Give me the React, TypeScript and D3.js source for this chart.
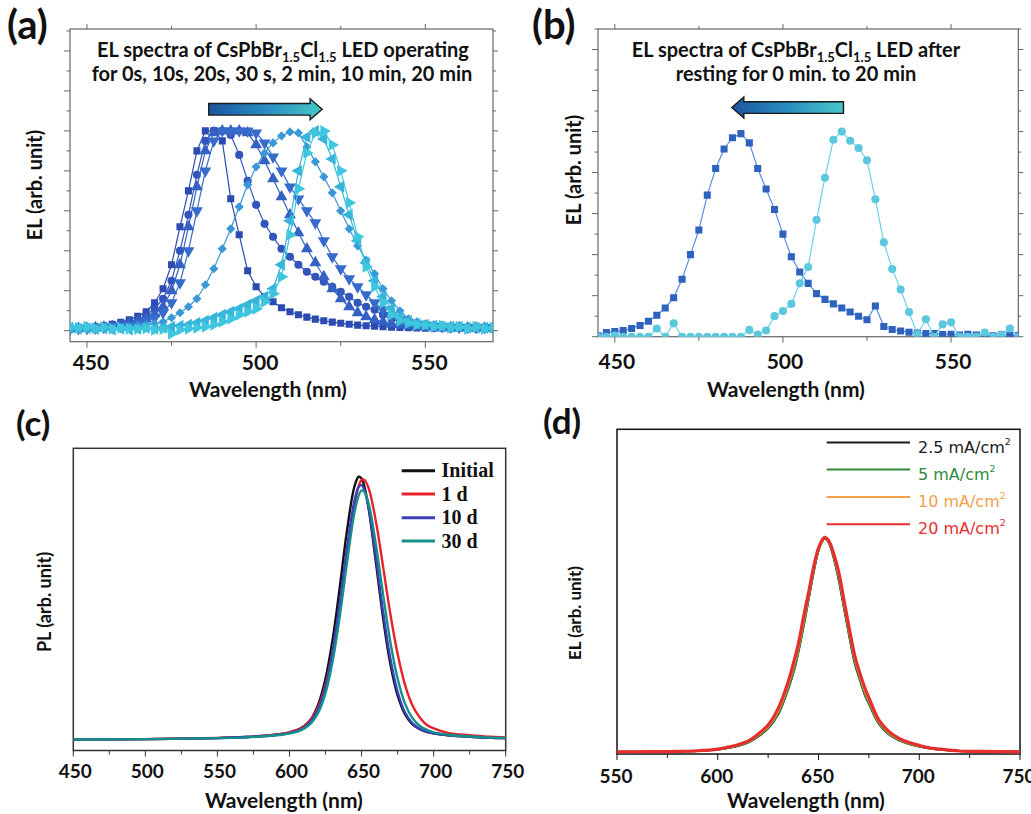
import React from 'react';
import * as d3 from 'd3';

// ---------- DATA ----------
// (a) and (b): wavelength grid (nm)
const WL_AB = [445,447.5,450,452.5,455,457.5,460,462.5,465,467.5,470,472.5,475,477.5,480,482.5,485,487.5,490,492.5,495,497.5,500,502.5,505,507.5,510,512.5,515,517.5,520,522.5,525,527.5,530,532.5,535,537.5,540,542.5,545,547.5,550,552.5,555,557.5,560,562.5,565,567.5,570];

// (a) EL spectra while operating
const A_LABELS = ['0 s', '10 s', '20 s', '30 s', '2 min', '10 min', '20 min'];
const A_0S = [0.012,0.014,0.016,0.02,0.025,0.032,0.042,0.055,0.072,0.095,0.14,0.21,0.33,0.52,0.70,0.90,1.0,1.0,0.95,0.66,0.48,0.30,0.22,0.17,0.145,0.115,0.095,0.08,0.068,0.058,0.05,0.043,0.037,0.032,0.028,0.025,0.022,0.02,0.018,0.016,0.015,0.014,0.013,0.012,0.012,0.011,0.011,0.01,0.01,0.01,0.01];
const A_10S = [0.01,0.012,0.014,0.017,0.02,0.026,0.033,0.043,0.057,0.077,0.11,0.16,0.25,0.40,0.58,0.78,0.95,1.0,1.0,0.98,0.88,0.75,0.63,0.535,0.47,0.41,0.37,0.33,0.295,0.27,0.245,0.22,0.195,0.17,0.14,0.12,0.105,0.08,0.058,0.045,0.037,0.03,0.025,0.022,0.02,0.018,0.017,0.016,0.015,0.015,0.015];
const A_20S = [0.01,0.012,0.013,0.015,0.018,0.022,0.027,0.034,0.045,0.06,0.085,0.12,0.2,0.33,0.52,0.72,0.9,0.99,1.0,1.0,1.0,0.99,0.93,0.85,0.76,0.67,0.58,0.49,0.41,0.34,0.27,0.21,0.16,0.12,0.09,0.07,0.055,0.045,0.035,0.03,0.025,0.02,0.02,0.018,0.016,0.015,0.015,0.014,0.014,0.013,0.013];
const A_30S = [0.008,0.01,0.011,0.013,0.015,0.018,0.022,0.028,0.036,0.048,0.065,0.09,0.14,0.24,0.40,0.60,0.80,0.95,1.0,1.0,1.0,1.0,0.99,0.94,0.87,0.80,0.72,0.66,0.60,0.54,0.45,0.37,0.31,0.26,0.22,0.18,0.14,0.105,0.075,0.055,0.04,0.032,0.027,0.023,0.02,0.018,0.017,0.016,0.015,0.015,0.015];
const A_2MIN = [0.005,0.006,0.007,0.008,0.01,0.012,0.015,0.02,0.025,0.03,0.035,0.045,0.065,0.09,0.12,0.16,0.23,0.31,0.41,0.51,0.62,0.73,0.82,0.89,0.94,0.975,0.995,0.99,0.92,0.845,0.77,0.69,0.60,0.51,0.425,0.353,0.285,0.21,0.15,0.10,0.06,0.045,0.035,0.03,0.028,0.025,0.02,0.02,0.02,0.02,0.02];
const A_10MIN = [0.015,0.01,0.012,0.008,0.012,0.006,0.01,0.006,0.01,0.015,0.01,0.015,0.02,0.025,0.03,0.04,0.05,0.065,0.08,0.095,0.11,0.13,0.15,0.17,0.21,0.33,0.55,0.80,0.97,1.0,0.96,0.86,0.72,0.58,0.45,0.34,0.25,0.17,0.11,0.07,0.05,0.035,0.03,0.025,0.02,0.02,0.02,0.015,0.015,0.015,0.015];
const A_20MIN = [0.02,0.015,0.02,0.012,0.018,0.01,0.015,0.01,0.008,0.012,0.005,0.008,-0.015,0.005,0.01,0.015,0.02,0.03,0.045,0.06,0.08,0.095,0.11,0.145,0.185,0.27,0.48,0.71,0.89,0.99,1.0,0.93,0.80,0.64,0.47,0.32,0.22,0.14,0.08,0.05,0.038,0.03,0.028,0.02,0.025,0.015,0.02,0.01,0.02,0.01,0.015];

// (b) EL spectra after resting
const B_LABELS = ['0 min', '20 min'];
const B_REST_0 = [0.005,0.02,0.025,0.03,0.04,0.055,0.075,0.105,0.14,0.19,0.28,0.40,0.52,0.69,0.82,0.915,0.97,0.99,0.945,0.82,0.72,0.62,0.50,0.39,0.315,0.26,0.21,0.182,0.16,0.14,0.12,0.1,0.083,0.15,0.05,0.035,0.028,0.022,0.018,0.015,0.015,0.01,0.012,0.008,0.012,0.008,0.01,0.005,0.01,0.008,0.006];
const B_REST_20 = [0.0,0.0,0.005,0.0,0.0,0.0,0.0,0.04,0.0,0.065,0.0,0.0,0.0,0.0,0.0,0.0,0.0,0.0,0.033,0.01,0.03,0.10,0.125,0.16,0.26,0.34,0.57,0.775,0.96,1.0,0.955,0.92,0.86,0.67,0.46,0.33,0.23,0.12,0.01,0.085,0.0,0.06,0.07,0.0,0.0,0.0,0.02,0.0,0.01,0.04,0.0];

// (c) PL spectra
const WL_C = [450,500,550,570,580,590,595,600,605,610,615,620,625,630,635,640,645,648,650,652,655,660,665,670,675,680,685,690,695,700,710,720,730,740,750];
const C_LABELS = ['Initial', '1 d', '10 d', '30 d'];
const C_INITIAL = [0.002,0.003,0.007,0.011,0.015,0.020,0.023,0.029,0.037,0.052,0.080,0.136,0.233,0.384,0.585,0.799,0.961,0.999,0.992,0.961,0.875,0.671,0.460,0.287,0.169,0.099,0.061,0.042,0.031,0.025,0.018,0.014,0.011,0.008,0.007];
const C_1D = [0.002,0.003,0.008,0.011,0.015,0.02,0.024,0.029,0.037,0.051,0.078,0.126,0.209,0.340,0.514,0.715,0.894,0.964,0.987,0.987,0.954,0.828,0.655,0.477,0.327,0.212,0.135,0.088,0.058,0.044,0.027,0.02,0.016,0.012,0.01];
const C_10D = [0.002,0.003,0.007,0.011,0.014,0.018,0.022,0.026,0.034,0.046,0.072,0.118,0.203,0.339,0.524,0.734,0.907,0.960,0.967,0.948,0.879,0.691,0.484,0.308,0.183,0.106,0.065,0.043,0.032,0.025,0.018,0.014,0.010,0.008,0.007];
const C_30D = [0.002,0.003,0.007,0.010,0.013,0.018,0.020,0.025,0.031,0.043,0.064,0.104,0.179,0.301,0.474,0.677,0.861,0.928,0.947,0.941,0.895,0.740,0.550,0.371,0.233,0.140,0.086,0.055,0.039,0.029,0.020,0.015,0.012,0.009,0.008];

// (d) EL spectra at different current densities
const WL_D = [550,570,580,590,600,605,610,615,620,625,630,635,638,640,643,645,648,650,652,653,655,658,660,663,665,668,670,673,675,680,685,690,695,700,705,710,720,730,740,750];
const D_LABELS = ['2.5 mA/cm', '5 mA/cm', '10 mA/cm', '20 mA/cm'];
const D_2_5 = [0.003,0.004,0.005,0.007,0.014,0.021,0.031,0.046,0.074,0.113,0.178,0.297,0.387,0.468,0.608,0.708,0.858,0.94,0.985,0.995,0.978,0.888,0.805,0.655,0.555,0.415,0.355,0.268,0.228,0.133,0.084,0.057,0.04,0.028,0.019,0.014,0.007,0.005,0.004,0.003];
const D_5 = [0.003,0.004,0.005,0.007,0.014,0.022,0.032,0.047,0.075,0.115,0.18,0.30,0.39,0.47,0.61,0.71,0.86,0.94,0.985,0.995,0.98,0.89,0.81,0.66,0.56,0.42,0.36,0.27,0.23,0.135,0.085,0.058,0.04,0.029,0.02,0.014,0.007,0.005,0.004,0.003];
const D_10 = [0.003,0.004,0.005,0.0075,0.015,0.0235,0.034,0.05,0.08,0.121,0.192,0.315,0.41,0.487,0.63,0.725,0.87,0.945,0.988,0.998,0.983,0.9,0.825,0.675,0.575,0.435,0.372,0.285,0.242,0.142,0.091,0.062,0.043,0.031,0.021,0.015,0.007,0.005,0.004,0.003];
const D_20 = [0.003,0.004,0.005,0.008,0.016,0.025,0.036,0.053,0.085,0.128,0.205,0.33,0.43,0.505,0.65,0.74,0.88,0.95,0.99,1.0,0.985,0.91,0.84,0.69,0.59,0.45,0.385,0.30,0.255,0.15,0.097,0.066,0.046,0.033,0.022,0.016,0.007,0.005,0.004,0.003];

// ticks
const AB_X_MAJOR = [450, 500, 550];
const AB_X_MINOR = [475, 525];
const AB_Y_MAJOR = [0, 0.2, 0.4, 0.6, 0.8, 1.0, 1.2, 1.4];
const AB_Y_MINOR = [0.1, 0.3, 0.5, 0.7, 0.9, 1.1, 1.3, 1.5];
const C_X_MAJOR = [450, 500, 550, 600, 650, 700, 750];
const C_X_MINOR = [475, 525, 575, 625, 675, 725];
const D_X_MAJOR = [550, 600, 650, 700, 750];
const D_X_MINOR = [575, 625, 675, 725];

// ---------- STYLE ----------
const SANS = "Lato, 'Open Sans', sans-serif";
const SERIF = "'Liberation Serif', 'DejaVu Serif', serif";
const A_COLORS = ['#2c4bb0', '#3255bb', '#3560c4', '#376bcb', '#3a98d6', '#36b4da', '#3fc6df'];
const A_MARKERS = ['square', 'circle', 'triUp', 'triDown', 'diamond', 'triLeft', 'triRight'];
const B_COLORS = ['#2f62be', '#5bc8dd'];
const B_LINE_COLORS = ['#5a8fdc', '#6fd2e4'];
const B_MARKERS = ['square', 'circle'];
const C_COLORS = ['#111111', '#e8212b', '#3b3fbd', '#14908a'];
const D_COLORS = ['#1a1a1a', '#2f8a3c', '#f5a04a', '#e62e2e'];
const D_TEXT_COLORS = ['#1a1a1a', '#2f8a3c', '#f5a04a', '#e62e2e'];

// ---------- SCALES ----------
const axA = d3.scaleLinear().domain([445, 570]).range([70, 493]);
const ayA = d3.scaleLinear().domain([-0.055, 1.51]).range([341.7, 29]);
const axB = d3.scaleLinear().domain([445, 570]).range([598, 1018.3]);
const ayB = d3.scaleLinear().domain([0, 1.5]).range([336.7, 29]);
const axC = d3.scaleLinear().domain([450, 750]).range([73.3, 505.7]);
const ayC = d3.scaleLinear().domain([-0.04, 1.107]).range([750.5, 448.3]);
const axD = d3.scaleLinear().domain([550, 750]).range([617, 1020]);
const ayD = d3.scaleLinear().domain([-0.007, 1.502]).range([754, 429.3]);

type Scale = d3.ScaleLinear<number, number>;

function markerPath(kind: string): { d: string; rot: number } {
  const map: Record<string, [d3.SymbolType, number, number]> = {
    square: [d3.symbolSquare, 50, 0],
    circle: [d3.symbolCircle, 52, 0],
    triUp: [d3.symbolTriangle, 62, 0],
    triDown: [d3.symbolTriangle, 62, 180],
    diamond: [d3.symbolSquare, 42, 45],
    triLeft: [d3.symbolTriangle, 62, -90],
    triRight: [d3.symbolTriangle, 62, 90],
  };
  const [t, s, r] = map[kind];
  return { d: d3.symbol().type(t).size(s)() as string, rot: r };
}

function Frame({ xs, ys, xMaj, xMin, yMaj, yMin, stroke, sw, all }: any) {
  const [x0, x1] = xs.range();
  const [y0, y1] = ys.range(); // y0 bottom, y1 top
  const out: any[] = [];
  const tick = (key: string, a: number, b: number, c: number, d: number) =>
    out.push(<line key={key} x1={a} y1={b} x2={c} y2={d} stroke={stroke} strokeWidth={1} />);
  xMaj.forEach((v: number, i: number) => {
    tick('xb' + i, xs(v), y0, xs(v), y0 + 6);
    if (all) tick('xt' + i, xs(v), y1, xs(v), y1 - 5);
  });
  xMin.forEach((v: number, i: number) => {
    tick('xbm' + i, xs(v), y0, xs(v), y0 + 4);
    if (all) tick('xtm' + i, xs(v), y1, xs(v), y1 - 3);
  });
  if (all) {
    yMaj.forEach((v: number, i: number) => {
      tick('yl' + i, x0, ys(v), x0 - 6, ys(v));
      tick('yr' + i, x1, ys(v), x1 + 5, ys(v));
    });
    yMin.forEach((v: number, i: number) => {
      tick('ylm' + i, x0, ys(v), x0 - 3.5, ys(v));
      tick('yrm' + i, x1, ys(v), x1 + 3, ys(v));
    });
  }
  return (
    <g>
      <rect x={x0} y={y1} width={x1 - x0} height={y0 - y1} fill="none" stroke={stroke} strokeWidth={sw} />
      {out}
    </g>
  );
}

function TickLabels({ xs, vals, y, size, dx = 0 }: any) {
  return (
    <g>
      {vals.map((v: number) => (
        <text key={v} x={xs(v) + dx} y={y} textAnchor="middle" fontSize={size} fontWeight="bold" fontFamily={SANS} fill="#111">
          {v}
        </text>
      ))}
    </g>
  );
}

function MarkerSeries({ xs, ys, wl, vals, color, lineColor, kind, clip }: any) {
  const line = d3.line<number>().x((_, i) => xs(wl[i])).y((v) => ys(v));
  const m = markerPath(kind);
  return (
    <g clipPath={`url(#${clip})`}>
      <path d={line(vals) as string} fill="none" stroke={lineColor} strokeWidth={1.2} />
      {vals.map((v: number, i: number) => (
        <path key={i} d={m.d} transform={`translate(${xs(wl[i])},${ys(v)}) rotate(${m.rot})`} fill={color} />
      ))}
    </g>
  );
}

function SmoothSeries({ xs, ys, wl, vals, color, width, clip }: any) {
  const line = d3.line<number>().x((_, i) => xs(wl[i])).y((v) => ys(v)).curve(d3.curveCatmullRom.alpha(0.5));
  return <path d={line(vals) as string} fill="none" stroke={color} strokeWidth={width} clipPath={`url(#${clip})`} strokeLinejoin="round" />;
}

function Arrow({ xTail, xTip, yc, gradId, dir }: any) {
  // dir: 1 pointing right, -1 pointing left
  const bh = 5.8, hh = 10.5, hl = 12 * dir;
  const xb = xTip - hl;
  const pts = [
    [xTail, yc - bh], [xb, yc - bh], [xb, yc - hh], [xTip, yc], [xb, yc + hh], [xb, yc + bh], [xTail, yc + bh],
  ];
  return <polygon points={pts.map((p) => p.join(',')).join(' ')} fill={`url(#${gradId})`} stroke="#1a1a1a" strokeWidth={1.4} />;
}

function Title({ x, y, pre, post, size }: any) {
  return (
    <text x={x} y={y} textAnchor="middle" fontSize={size} fontWeight="bold" fontFamily={SANS} fill="#111">
      {pre}
      <tspan fontSize={size * 0.65} dy={5}>1.5</tspan>
      <tspan dy={-5}>Cl</tspan>
      <tspan fontSize={size * 0.65} dy={5}>1.5</tspan>
      <tspan dy={-5}>{post}</tspan>
    </text>
  );
}

function rect(id: string, xs: Scale, ys: Scale) {
  const [x0, x1] = xs.range();
  const [y0, y1] = ys.range();
  return (
    <clipPath id={id} key={id}>
      <rect x={x0} y={y1} width={x1 - x0} height={y0 - y1} />
    </clipPath>
  );
}

export default function App() {
  const aSeries = [A_0S, A_10S, A_20S, A_30S, A_2MIN, A_10MIN, A_20MIN];
  const bSeries = [B_REST_0, B_REST_20];
  const cSeries = [C_INITIAL, C_1D, C_10D, C_30D];
  const dSeries = [D_2_5, D_5, D_10, D_20];
  const cLegendY = [470.7, 494, 517.7, 541];
  const dLegendY = [442.5, 469.5, 497, 524.3];
  return (
    <svg width={1031} height={814} style={{ position: 'absolute', left: 0, top: 0, background: '#fff' }}>
      <defs>
        {rect('clipA', axA, ayA)}
        {rect('clipB', axB, ayB)}
        {rect('clipC', axC, ayC)}
        {rect('clipD', axD, ayD)}
        <linearGradient id="gradA" x1="0" x2="1" y1="0" y2="0">
          <stop offset="0" stopColor="#1b55a0" />
          <stop offset="0.5" stopColor="#2a8cc0" />
          <stop offset="1" stopColor="#45c8c8" />
        </linearGradient>
        <linearGradient id="gradB" x1="0" x2="1" y1="0" y2="0">
          <stop offset="0" stopColor="#1b55a0" />
          <stop offset="0.5" stopColor="#2a8cc0" />
          <stop offset="1" stopColor="#45c8c8" />
        </linearGradient>
      </defs>

      {/* ---------- (a) ---------- */}
      <text x={7} y={39} fontSize={40} fontWeight="bold" fontFamily={SANS} fill="#111">(a)</text>
      <Frame xs={axA} ys={ayA} xMaj={AB_X_MAJOR} xMin={AB_X_MINOR} yMaj={AB_Y_MAJOR} yMin={AB_Y_MINOR} stroke="#666" sw={1.2} all />
      {aSeries.map((s, i) => (
        <MarkerSeries key={A_LABELS[i]} xs={axA} ys={ayA} wl={WL_AB} vals={s} color={A_COLORS[i]} lineColor={A_COLORS[i]} kind={A_MARKERS[i]} clip="clipA" />
      ))}
      <Title x={283} y={57} size={20} pre="EL spectra of CsPbBr" post=" LED operating" />
      <text x={282} y={81} textAnchor="middle" fontSize={20} fontWeight="bold" fontFamily={SANS} fill="#111">for 0s, 10s, 20s, 30 s, 2 min, 10 min, 20 min</text>
      <Arrow xTail={axA(486)} xTip={axA(519.5)} yc={ayA(1.108)} gradId="gradA" dir={1} />
      <TickLabels xs={axA} vals={AB_X_MAJOR} y={370} size={21} dx={4} />
      <text x={268} y={397} textAnchor="middle" fontSize={21} fontWeight="bold" fontFamily={SANS} fill="#111">Wavelength (nm)</text>
      <text transform="translate(42,185) rotate(-90)" textAnchor="middle" fontSize={20} fontWeight="bold" fontFamily={SANS} fill="#111">EL (arb. unit)</text>

      {/* ---------- (b) ---------- */}
      <text x={532} y={39} fontSize={40} fontWeight="bold" fontFamily={SANS} fill="#111">(b)</text>
      <Frame xs={axB} ys={ayB} xMaj={AB_X_MAJOR} xMin={AB_X_MINOR} yMaj={AB_Y_MAJOR} yMin={AB_Y_MINOR} stroke="#666" sw={1.2} all />
      {bSeries.map((s, i) => (
        <MarkerSeries key={B_LABELS[i]} xs={axB} ys={ayB} wl={WL_AB} vals={s} color={B_COLORS[i]} lineColor={B_LINE_COLORS[i]} kind={B_MARKERS[i]} clip="clipB" />
      ))}
      <Title x={796} y={57} size={20} pre="EL spectra of CsPbBr" post=" LED after" />
      <text x={796} y={81} textAnchor="middle" fontSize={20} fontWeight="bold" fontFamily={SANS} fill="#111">resting for 0 min. to 20 min</text>
      <Arrow xTail={axB(518)} xTip={axB(484.8)} yc={ayB(1.117)} gradId="gradB" dir={-1} />
      <TickLabels xs={axB} vals={AB_X_MAJOR} y={369} size={21} dx={2} />
      <text x={786} y={397} textAnchor="middle" fontSize={21} fontWeight="bold" fontFamily={SANS} fill="#111">Wavelength (nm)</text>
      <text transform="translate(581,170) rotate(-90)" textAnchor="middle" fontSize={20} fontWeight="bold" fontFamily={SANS} fill="#111">EL (arb. unit)</text>

      {/* ---------- (c) ---------- */}
      <text x={16} y={436} fontSize={35} fontWeight="bold" fontFamily={SANS} fill="#111">(c)</text>
      <Frame xs={axC} ys={ayC} xMaj={C_X_MAJOR} xMin={C_X_MINOR} yMaj={[]} yMin={[]} stroke="#333" sw={1.5} all={false} />
      {cSeries.map((s, i) => (
        <SmoothSeries key={C_LABELS[i]} xs={axC} ys={ayC} wl={WL_C} vals={s} color={C_COLORS[i]} width={2.4} clip="clipC" />
      ))}
      {C_LABELS.map((l, i) => (
        <g key={l}>
          <line x1={401.7} x2={435} y1={cLegendY[i]} y2={cLegendY[i]} stroke={C_COLORS[i]} strokeWidth={3} />
          <text x={441.5} y={cLegendY[i] + 6.5} fontSize={20} fontWeight="bold" fontFamily={SERIF} fill="#111">{l}</text>
        </g>
      ))}
      <TickLabels xs={axC} vals={C_X_MAJOR} y={778} size={19} dx={2} />
      <text x={284} y={808} textAnchor="middle" fontSize={21} fontWeight="bold" fontFamily={SANS} fill="#111">Wavelength (nm)</text>
      <text transform="translate(51,602) rotate(-90)" textAnchor="middle" fontSize={18} fontWeight="bold" fontFamily={SANS} fill="#111">PL (arb. unit)</text>

      {/* ---------- (d) ---------- */}
      <text x={543} y={434} fontSize={35} fontWeight="bold" fontFamily={SANS} fill="#111">(d)</text>
      <Frame xs={axD} ys={ayD} xMaj={D_X_MAJOR} xMin={D_X_MINOR} yMaj={[]} yMin={[]} stroke="#111" sw={1.5} all={false} />
      {dSeries.map((s, i) => (
        <SmoothSeries key={D_LABELS[i]} xs={axD} ys={ayD} wl={WL_D} vals={s} color={D_COLORS[i]} width={i === 3 ? 3.2 : 2.2} clip="clipD" />
      ))}
      {D_LABELS.map((l, i) => (
        <g key={l}>
          <line x1={826.7} x2={910} y1={dLegendY[i]} y2={dLegendY[i]} stroke={D_COLORS[i]} strokeWidth={2} />
          <text x={918} y={dLegendY[i] + 10} fontSize={16} fontFamily="'DejaVu Sans', sans-serif" fill={D_TEXT_COLORS[i]}>
            {l}
            <tspan fontSize={9.5} dy={-8}>2</tspan>
          </text>
        </g>
      ))}
      <TickLabels xs={axD} vals={D_X_MAJOR} y={783} size={19} dx={-1} />
      <text x={806} y={808} textAnchor="middle" fontSize={21} fontWeight="bold" fontFamily={SANS} fill="#111">Wavelength (nm)</text>
      <text transform="translate(581,613) rotate(-90)" textAnchor="middle" fontSize={17} fontWeight="bold" fontFamily={SANS} fill="#111">EL (arb. unit)</text>
    </svg>
  );
}
